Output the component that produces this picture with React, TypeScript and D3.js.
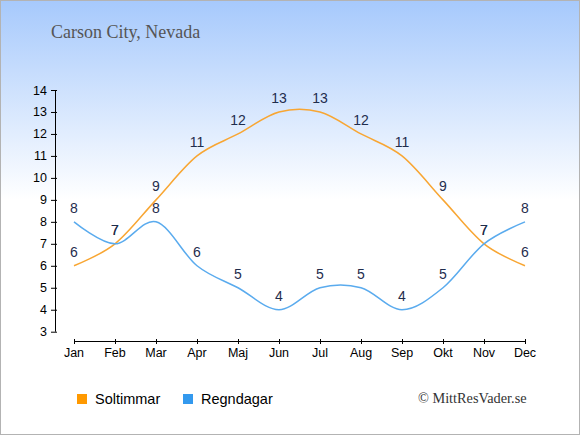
import * as d3 from 'd3';

const months = ['Jan', 'Feb', 'Mar', 'Apr', 'Maj', 'Jun', 'Jul', 'Aug', 'Sep', 'Okt', 'Nov', 'Dec'];
const sunHours = [6, 7, 9, 11, 12, 13, 13, 12, 11, 9, 7, 6];
const rainDays = [8, 7, 8, 6, 5, 4, 5, 5, 4, 5, 7, 8];
const yTicks = [3, 4, 5, 6, 7, 8, 9, 10, 11, 12, 13, 14];

const width = 580;
const height = 435;
const sunColor = '#f8a633';
const rainColor = '#5aabee';
const labelColor = '#1f2d4d';

export default function App() {
  const x = d3.scalePoint<string>().domain(months).range([74, 525]);
  const y = d3.scaleLinear().domain([3, 14]).range([331.7, 90]);

  const line = d3
    .line<number>()
    .x((_, i) => x(months[i]) as number)
    .y((d) => y(d))
    .curve(d3.curveCardinal.tension(0));

  const series = [
    { name: 'Soltimmar', values: sunHours, color: sunColor, swatch: '#ff9900' },
    { name: 'Regndagar', values: rainDays, color: rainColor, swatch: '#3399ee' },
  ];

  return (
    <svg
      width={width}
      height={height}
      style={{ position: 'absolute', left: 0, top: 0 }}
      fontFamily="'Liberation Sans', Arial, sans-serif"
    >
      <defs>
        <linearGradient id="bg" x1="0" y1="0" x2="0" y2="200" gradientUnits="userSpaceOnUse">
          <stop offset="0" stopColor="#a6c9fc" />
          <stop offset="1" stopColor="#ffffff" />
        </linearGradient>
      </defs>
      <rect x={0} y={0} width={width} height={height} fill="url(#bg)" />
      <rect x={0.5} y={0.5} width={width - 1} height={height - 1} fill="none" stroke="#b3b3b3" />

      <text x={51} y={38} fontFamily="'Liberation Serif', 'Times New Roman', serif" fontSize={18} fill="#555">
        Carson City, Nevada
      </text>

      {/* y axis */}
      <line x1={55.5} x2={55.5} y1={y(14)} y2={y(3)} stroke="#000" />
      {yTicks.map((t) => (
        <g key={t}>
          <line x1={51} x2={57} y1={y(t) + 0.5} y2={y(t) + 0.5} stroke="#000" />
          <text x={47} y={y(t) + 4.5} textAnchor="end" fontSize={12.5} fill="#000">
            {t}
          </text>
        </g>
      ))}

      {/* x axis */}
      <line x1={x('Jan')} x2={x('Dec')} y1={341.5} y2={341.5} stroke="#000" />
      {months.map((m) => (
        <g key={m}>
          <line x1={(x(m) as number) + 0.5} x2={(x(m) as number) + 0.5} y1={339} y2={344} stroke="#000" />
          <text x={x(m)} y={357} textAnchor="middle" fontSize={12.5} fill="#000">
            {m}
          </text>
        </g>
      ))}

      {series.map((s) => (
        <path key={s.name} d={line(s.values) ?? ''} fill="none" stroke={s.color} strokeWidth={1.5} />
      ))}

      {series.map((s) =>
        s.values.map((v, i) => (
          <text
            key={s.name + i}
            x={x(months[i])}
            y={y(v) - 9}
            textAnchor="middle"
            fontSize={14}
            fill={labelColor}
          >
            {v}
          </text>
        ))
      )}

      {/* legend */}
      {series.map((s, i) => (
        <g key={s.name} transform={`translate(${77 + i * 106},394)`}>
          <rect width={10} height={10} fill={s.swatch} />
          <text x={18} y={9.5} fontSize={14.5} fill="#000">
            {s.name}
          </text>
        </g>
      ))}
      <text x={418} y={403} fontFamily="'Liberation Serif', 'Times New Roman', serif" fontSize={14.3} fill="#333">
        © MittResVader.se
      </text>
    </svg>
  );
}
